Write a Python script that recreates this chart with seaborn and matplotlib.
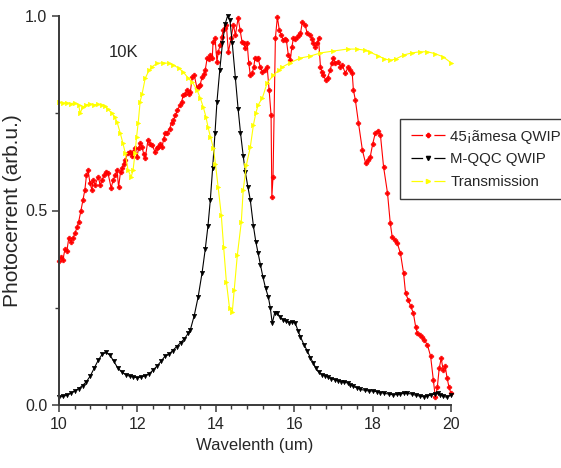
import numpy as np
import pandas as pd
import seaborn as sns
import matplotlib.pyplot as plt
from matplotlib.lines import Line2D
from matplotlib.ticker import MultipleLocator

# 45 deg mesa QWIP photocurrent
red_x = [10.00, 10.05, 10.10, 10.15, 10.20, 10.25, 10.30, 10.36, 10.41, 10.46, 10.50, 10.56, 10.61,
         10.66, 10.70, 10.74, 10.79, 10.84, 10.87, 10.92, 11.00, 11.05, 11.10, 11.15, 11.20, 11.25,
         11.33, 11.38, 11.43, 11.48, 11.52, 11.57, 11.61, 11.65, 11.69, 11.76, 11.81, 11.85, 11.89,
         11.94, 11.99, 12.03, 12.07, 12.12, 12.16, 12.20, 12.27, 12.33, 12.38, 12.45, 12.49, 12.53,
         12.58, 12.63, 12.67, 12.71, 12.76, 12.82, 12.87, 12.92, 12.97, 13.02, 13.09, 13.13, 13.17,
         13.22, 13.27, 13.31, 13.35, 13.40, 13.45, 13.52, 13.56, 13.60, 13.65, 13.69, 13.73, 13.78,
         13.82, 13.86, 13.91, 13.93, 13.98, 14.03, 14.06, 14.11, 14.15, 14.19, 14.23, 14.27, 14.32,
         14.39, 14.45, 14.50, 14.57, 14.62, 14.67, 14.71, 14.75, 14.80, 14.84, 14.88, 14.93, 14.97,
         15.00, 15.04, 15.08, 15.13, 15.19, 15.26, 15.31, 15.36, 15.41, 15.43, 15.46, 15.52, 15.57,
         15.62, 15.67, 15.72, 15.76, 15.80, 15.85, 15.90, 15.94, 15.98, 16.03, 16.08, 16.12, 16.16,
         16.21, 16.28, 16.33, 16.41, 16.45, 16.49, 16.54, 16.58, 16.62, 16.67, 16.71, 16.74, 16.80,
         16.85, 16.92, 16.96, 17.00, 17.05, 17.13, 17.18, 17.23, 17.30, 17.38, 17.43, 17.48, 17.51,
         17.56, 17.64, 17.74, 17.82, 17.88, 17.94, 18.00, 18.07, 18.13, 18.20, 18.28, 18.38, 18.45,
         18.50, 18.56, 18.63, 18.71, 18.79, 18.84, 18.91, 18.97, 19.04, 19.10, 19.14, 19.20, 19.27,
         19.32, 19.40, 19.48, 19.55, 19.60, 19.65, 19.70, 19.75, 19.80, 19.85, 19.90, 19.95, 20.00]
red_y = [0.370, 0.380, 0.373, 0.400, 0.395, 0.430, 0.420, 0.430, 0.442, 0.458, 0.470, 0.500, 0.527,
         0.553, 0.590, 0.604, 0.570, 0.553, 0.578, 0.566, 0.586, 0.566, 0.578, 0.591, 0.600, 0.596,
         0.558, 0.578, 0.590, 0.604, 0.560, 0.600, 0.609, 0.620, 0.630, 0.648, 0.650, 0.640, 0.650,
         0.660, 0.638, 0.660, 0.673, 0.663, 0.645, 0.635, 0.681, 0.672, 0.668, 0.650, 0.660, 0.663,
         0.670, 0.663, 0.685, 0.700, 0.700, 0.710, 0.725, 0.733, 0.745, 0.758, 0.771, 0.780, 0.797,
         0.800, 0.810, 0.800, 0.805, 0.843, 0.848, 0.815, 0.820, 0.823, 0.843, 0.850, 0.861, 0.892,
         0.890, 0.900, 0.892, 0.933, 0.943, 0.882, 0.907, 0.925, 0.945, 0.964, 0.970, 0.977, 0.907,
         0.943, 0.977, 0.951, 0.995, 0.964, 0.933, 0.930, 0.918, 0.930, 0.880, 0.848, 0.853, 0.870,
         0.892, 0.890, 0.892, 0.870, 0.856, 0.861, 0.869, 0.810, 0.745, 0.535, 0.586, 0.943, 0.997,
         0.964, 0.951, 0.938, 0.940, 0.938, 0.900, 0.887, 0.920, 0.943, 0.940, 0.946, 0.950, 0.956,
         0.985, 0.977, 0.956, 0.951, 0.940, 0.931, 0.920, 0.930, 0.943, 0.869, 0.855, 0.848, 0.836,
         0.841, 0.861, 0.880, 0.892, 0.879, 0.882, 0.870, 0.874, 0.853, 0.869, 0.860, 0.853, 0.810,
         0.784, 0.725, 0.655, 0.622, 0.630, 0.638, 0.670, 0.700, 0.705, 0.694, 0.612, 0.545, 0.468,
         0.432, 0.425, 0.416, 0.390, 0.339, 0.288, 0.270, 0.255, 0.236, 0.200, 0.185, 0.180, 0.175,
         0.167, 0.154, 0.125, 0.064, 0.020, 0.045, 0.095, 0.120, 0.090, 0.100, 0.070, 0.045, 0.030]

# M-QQC QWIP photocurrent
blk_x = [10.0, 10.1, 10.2, 10.3, 10.4, 10.5, 10.6, 10.7, 10.8, 10.9, 11.0, 11.1, 11.2, 11.3, 11.4,
         11.5, 11.6, 11.7, 11.8, 11.9, 12.0, 12.1, 12.2, 12.3, 12.4, 12.5, 12.6, 12.7, 12.8, 12.9,
         13.0, 13.1, 13.2, 13.3, 13.35, 13.45, 13.55, 13.65, 13.73, 13.8, 13.86, 13.92, 13.98, 14.03,
         14.1, 14.17, 14.24, 14.3, 14.36, 14.42, 14.5, 14.57, 14.63, 14.7, 14.75, 14.82, 14.88, 14.96,
         15.02, 15.08, 15.14, 15.2, 15.27, 15.34, 15.39, 15.44, 15.5, 15.57, 15.65, 15.72, 15.8, 15.88,
         15.95, 16.03, 16.1, 16.16, 16.25, 16.33, 16.41, 16.49, 16.55, 16.62, 16.7, 16.78, 16.85,
         16.95, 17.05, 17.12, 17.2, 17.28, 17.36, 17.43, 17.5, 17.6, 17.69, 17.8, 17.9, 18.0, 18.12,
         18.2, 18.3, 18.42, 18.53, 18.62, 18.7, 18.8, 18.89, 19.0, 19.1, 19.2, 19.3, 19.4, 19.5,
         19.58, 19.66, 19.73, 19.8, 19.9, 20.0]
blk_y = [0.020, 0.022, 0.025, 0.030, 0.036, 0.042, 0.050, 0.060, 0.075, 0.095, 0.115, 0.130, 0.135,
         0.128, 0.112, 0.095, 0.085, 0.078, 0.074, 0.072, 0.070, 0.072, 0.075, 0.080, 0.090, 0.100,
         0.112, 0.125, 0.130, 0.140, 0.150, 0.160, 0.170, 0.185, 0.193, 0.230, 0.278, 0.340, 0.400,
         0.460, 0.527, 0.610, 0.700, 0.780, 0.860, 0.930, 0.980, 1.000, 0.990, 0.930, 0.840, 0.760,
         0.700, 0.640, 0.600, 0.560, 0.527, 0.460, 0.420, 0.390, 0.360, 0.330, 0.300, 0.278, 0.250,
         0.210, 0.236, 0.236, 0.225, 0.218, 0.215, 0.212, 0.214, 0.210, 0.190, 0.175, 0.155, 0.140,
         0.122, 0.108, 0.095, 0.085, 0.078, 0.075, 0.072, 0.068, 0.064, 0.062, 0.060, 0.058, 0.057,
         0.052, 0.048, 0.044, 0.040, 0.038, 0.036, 0.036, 0.034, 0.032, 0.030, 0.028, 0.026, 0.027,
         0.028, 0.030, 0.030, 0.028, 0.025, 0.023, 0.021, 0.023, 0.026, 0.028, 0.030, 0.026, 0.022,
         0.020, 0.026]

# transmission
yel_x = [10.0, 10.1, 10.2, 10.3, 10.4, 10.5, 10.54, 10.6, 10.7, 10.8, 10.9, 11.0, 11.1, 11.17, 11.25,
         11.35, 11.42, 11.48, 11.56, 11.63, 11.69, 11.76, 11.84, 11.89, 11.94, 11.98, 12.02, 12.07,
         12.12, 12.2, 12.3, 12.38, 12.5, 12.66, 12.8, 12.92, 13.05, 13.17, 13.3, 13.4, 13.52, 13.6,
         13.68, 13.75, 13.8, 13.86, 13.94, 13.99, 14.06, 14.14, 14.2, 14.27, 14.35, 14.42, 14.47,
         14.55, 14.65, 14.7, 14.78, 14.88, 14.96, 15.02, 15.08, 15.19, 15.31, 15.47, 15.6, 15.7, 15.9,
         16.16, 16.41, 16.67, 17.0, 17.36, 17.61, 17.8, 17.94, 18.15, 18.3, 18.45, 18.6, 18.8, 19.0,
         19.2, 19.4, 19.6, 19.8, 20.0]
yel_y = [0.778, 0.776, 0.777, 0.775, 0.776, 0.772, 0.750, 0.765, 0.772, 0.774, 0.772, 0.773, 0.771,
         0.768, 0.760, 0.750, 0.740, 0.728, 0.700, 0.673, 0.648, 0.604, 0.586, 0.604, 0.648, 0.690,
         0.725, 0.780, 0.800, 0.840, 0.861, 0.870, 0.878, 0.880, 0.878, 0.874, 0.866, 0.856, 0.840,
         0.830, 0.810, 0.790, 0.766, 0.740, 0.715, 0.690, 0.660, 0.620, 0.560, 0.488, 0.406, 0.316,
         0.249, 0.239, 0.296, 0.386, 0.470, 0.553, 0.617, 0.663, 0.720, 0.750, 0.771, 0.790, 0.828,
         0.848, 0.860, 0.869, 0.880, 0.892, 0.897, 0.905, 0.910, 0.915, 0.915, 0.912, 0.907, 0.897,
         0.890, 0.886, 0.890, 0.900, 0.905, 0.908, 0.908, 0.903, 0.895, 0.880]

labels = ['45¡ãmesa QWIP', 'M-QQC QWIP', 'Transmission']
colors = ['#ff0000', '#000000', '#ffff00']
markers = ['P', 'v', '>']

sns.set_style('ticks')
plt.rcParams['font.family'] = ['Liberation Sans', 'DejaVu Sans']

fig = plt.figure(figsize=(5.61, 4.68), dpi=100)
ax = fig.add_axes([59 / 561, 1 - 405 / 468, 392 / 561, 389 / 468])

series = [(red_x, red_y), (blk_x, blk_y), (yel_x, yel_y)]
sizes = [3.4, 3.2, 3.2]
for (xs, ys), lab, c, m, ms in zip(series, labels, colors, markers, sizes):
    df = pd.DataFrame({'x': xs, 'y': ys})
    sns.lineplot(data=df, x='x', y='y', ax=ax, color=c, marker=m, markersize=ms,
                 markeredgecolor=c, markeredgewidth=0.4, linewidth=0.8, sort=False,
                 clip_on=False, legend=False)

ax.set_xlim(10, 20)
ax.set_ylim(0, 1.0)
ax.xaxis.set_major_locator(MultipleLocator(2))
ax.xaxis.set_minor_locator(MultipleLocator(0.4))
ax.yaxis.set_major_locator(MultipleLocator(0.5))
ax.yaxis.set_minor_locator(MultipleLocator(0.25))
ax.yaxis.set_major_formatter(plt.FormatStrFormatter('%.1f'))
sns.despine(ax=ax)
for s in ['left', 'bottom']:
    ax.spines[s].set_color('#3a3a3a')
    ax.spines[s].set_linewidth(1.4)
ax.tick_params(which='major', length=5, width=1.1, color='#3a3a3a', direction='out',
               labelsize=11.5)
ax.tick_params(which='minor', length=3, width=1.0, color='#3a3a3a', direction='out')

ax.set_xlabel('Wavelenth (um)', fontsize=12)
ax.xaxis.set_label_coords(0.5, -(438 - 405) / 389)
ax.set_ylabel('Photocerrent (arb.u.)', fontsize=15)
ax.yaxis.set_label_coords(-(59 - 22) / 392, 0.5)
ax.text(11.28, 0.905, '10K', fontsize=12, va='center', ha='left')

# legend handles: dash - marker - dash
handles = [Line2D([], [], color=c, marker=m, markersize=3, linewidth=0.9,
                  linestyle=(0, (9.3, 9.0)))
           for c, m in zip(colors, markers)]
fig.legend(handles, labels, loc='upper left', bbox_to_anchor=(400 / 561, 1 - 119 / 468),
           borderaxespad=0, prop={'size': 10.8}, handlelength=2.3,
           handletextpad=0.35, borderpad=0.7, labelspacing=0.58, fancybox=False,
           edgecolor='#3a3a3a', framealpha=1, numpoints=1)

fig.savefig('out.png', dpi=100)
